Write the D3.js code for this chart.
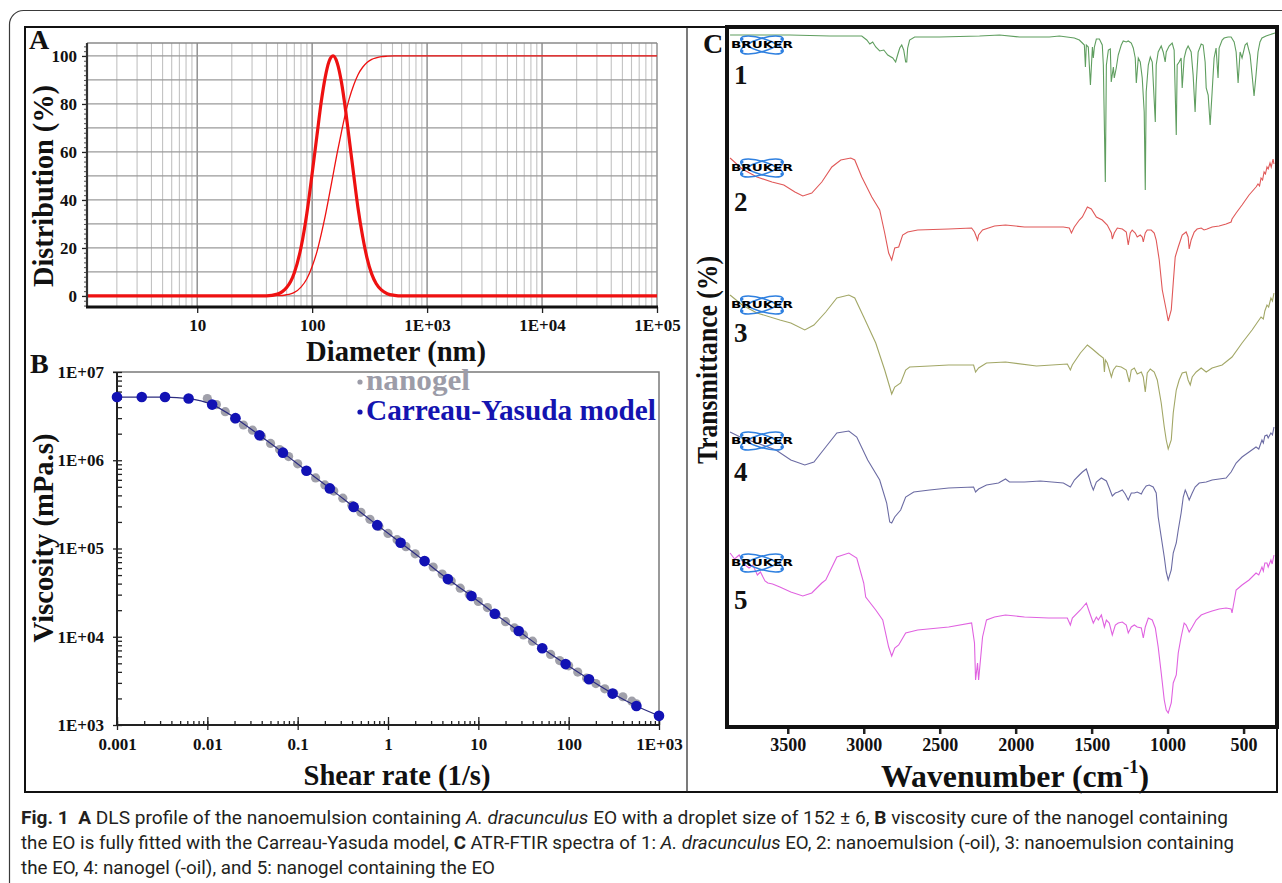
<!DOCTYPE html>
<html>
<head>
<meta charset="utf-8">
<script src="https://cdn.jsdelivr.net/npm/d3@7/dist/d3.min.js"></script>
<style>
  body { margin: 0; background: #fff; }
  svg text { font-family: "Liberation Serif", "Times New Roman", serif; font-weight: bold; fill: #111; }
  .caption text { font-family: Roboto, "Noto Sans", sans-serif; font-weight: normal; fill: #231f20; }
  svg text.logo { font-family: "DejaVu Sans", sans-serif; font-weight: bold; fill: #000; }
</style>
</head>
<body>
<svg id="fig" width="1282" height="883"></svg>
<script>
// Fig. 1 – DLS profile, viscosity curve, ATR-FTIR spectra

// ---------------------------
// Data: panel A (DLS)
// ---------------------------
const dlsDiameter = [1.1, 40, 50, 55, 60, 65, 70, 80, 90, 100, 110, 120, 130, 140, 152, 165, 180, 195, 210, 230, 250, 275, 300, 330, 360, 400, 450, 520, 600, 100000];
const dlsDistribution = [0, 0, 0.8, 1.8, 3.5, 6.0, 9.7, 20.2, 34.5, 51, 66.7, 80.9, 91.2, 97.6, 100, 97.2, 89.0, 77.7, 65.5, 50.4, 37.0, 24.8, 15.9, 9.1, 5.2, 2.5, 0.95, 0.25, 0, 0];
const dlsCumulative = [0, 0, 0.1, 0.2, 0.5, 0.9, 1.5, 3.7, 7.2, 12.3, 18.4, 25.8, 33.4, 41.3, 50.4, 59.5, 68.4, 76.1, 82.1, 87.9, 92.1, 95.3, 97.3, 98.6, 99.2, 99.7, 99.9, 100, 100, 100];
const dlsXTicks = [10, 100, 1000, 10000, 100000];
const dlsXLabels = ["10", "100", "1E+03", "1E+04", "1E+05"];
const dlsYTicks = [0, 20, 40, 60, 80, 100];

// ---------------------------
// Data: panel B (rheology)
// ---------------------------
const shearModel = [0.001, 0.00188, 0.0034, 0.0062, 0.0113, 0.0205, 0.0378, 0.0687, 0.125, 0.227, 0.417, 0.76, 1.38, 2.54, 4.6, 8.4, 15.2, 28, 51, 92.5, 168, 306, 562, 1000];
const viscModel = [5.2e6, 5.2e6, 5.2e6, 5.0e6, 4.27e6, 3.0e6, 1.92e6, 1.22e6, 7.6e5, 4.8e5, 2.96e5, 1.84e5, 1.16e5, 7.2e4, 4.5e4, 2.9e4, 1.82e4, 1.16e4, 7.4e3, 4.9e3, 3.3e3, 2.27e3, 1.64e3, 1.27e3];
const shearGel = [0.01, 0.0126, 0.0158, 0.02, 0.0251, 0.0316, 0.0398, 0.0501, 0.0631, 0.0794, 0.1, 0.126, 0.158, 0.2, 0.251, 0.316, 0.398, 0.501, 0.631, 0.794, 1, 1.26, 1.58, 2, 2.51, 3.16, 3.98, 5.01, 6.31, 7.94, 10, 12.6, 15.8, 20, 25.1, 31.6, 39.8, 50.1, 63.1, 79.4, 100, 126, 158, 200, 251, 316, 398, 501, 562];
const viscGel = [5.01e6, 4.27e6, 3.55e6, 2.95e6, 2.51e6, 2.19e6, 1.86e6, 1.55e6, 1.32e6, 1.10e6, 9.12e5, 7.59e5, 6.31e5, 5.25e5, 4.47e5, 3.72e5, 3.09e5, 2.57e5, 2.14e5, 1.78e5, 1.48e5, 1.26e5, 1.05e5, 8.71e4, 7.24e4, 6.17e4, 5.13e4, 4.27e4, 3.55e4, 3.02e4, 2.51e4, 2.14e4, 1.78e4, 1.48e4, 1.26e4, 1.05e4, 8.91e3, 7.41e3, 6.31e3, 5.37e3, 4.68e3, 3.98e3, 3.39e3, 2.95e3, 2.57e3, 2.29e3, 2.09e3, 1.86e3, 1.74e3];
const rheoXTicks = [0.001, 0.01, 0.1, 1, 10, 100, 1000];
const rheoXLabels = ["0.001", "0.01", "0.1", "1", "10", "100", "1E+03"];
const rheoYTicks = [1e3, 1e4, 1e5, 1e6, 1e7];
const rheoYLabels = ["1E+03", "1E+04", "1E+05", "1E+06", "1E+07"];

// ---------------------------
// Data: panel C (ATR-FTIR, stacked, transmittance in a.u.)
// ---------------------------
const spec1 = [[3880,690],[3486,690],[3223,689],[3013,689],[2980,685],[2960,681],[2941,683],[2921,678],[2895,674],[2868,675],[2842,670],[2809,667],[2790,663],[2777,670],[2763,677],[2750,680],[2737,675],[2724,663],[2717,663],[2711,677],[2698,685],[2665,688],[2501,688],[2238,689],[2106,690],[1975,688],[1778,688],[1712,689],[1614,687],[1581,685],[1561,682],[1548,680],[1541,658],[1535,680],[1522,678],[1508,640],[1495,678],[1489,667],[1482,678],[1469,686],[1449,686],[1430,680],[1423,660],[1410,543],[1403,660],[1390,675],[1377,676],[1371,643],[1357,658],[1351,647],[1338,657],[1325,670],[1305,680],[1292,684],[1272,683],[1259,684],[1239,682],[1226,677],[1213,667],[1206,642],[1193,667],[1180,663],[1167,647],[1154,613],[1147,535],[1141,633],[1127,660],[1114,668],[1101,663],[1081,603],[1075,660],[1062,673],[1042,679],[1029,673],[1016,663],[1009,673],[990,679],[970,682],[957,675],[943,590],[937,660],[924,663],[911,667],[904,637],[891,667],[878,675],[865,679],[845,673],[832,650],[819,613],[812,640],[799,673],[779,681],[766,680],[753,663],[746,637],[733,630],[720,600],[707,633],[694,667],[681,677],[668,647],[661,677],[641,685],[628,687],[602,688],[582,688],[562,683],[549,673],[536,642],[523,673],[510,667],[490,680],[477,682],[457,670],[444,650],[431,629],[418,650],[405,673],[392,683],[379,687],[352,689],[333,690],[293,692]];
const spec2 = [[3880,567],[3800,556],[3703,548],[3604,543],[3526,540],[3453,533],[3401,529],[3342,532],[3276,543],[3210,558],[3151,565],[3085,567],[3059,565],[3013,548],[2947,528],[2895,515],[2862,492],[2836,472],[2816,465],[2796,477],[2770,478],[2744,490],[2711,493],[2645,495],[2441,496],[2290,497],[2271,493],[2251,485],[2244,490],[2218,495],[2139,499],[2067,500],[1942,498],[1686,498],[1647,497],[1633,492],[1614,498],[1581,505],[1561,508],[1528,518],[1502,516],[1469,508],[1430,505],[1397,500],[1370,492],[1364,486],[1351,492],[1331,497],[1298,496],[1272,493],[1259,480],[1246,492],[1233,495],[1213,492],[1200,488],[1180,490],[1167,488],[1160,483],[1147,492],[1134,495],[1108,495],[1088,492],[1075,485],[1055,465],[1035,435],[1009,415],[996,404],[976,415],[963,442],[950,468],[930,478],[904,490],[878,493],[865,488],[858,476],[845,485],[825,493],[806,496],[779,497],[760,495],[740,496],[707,498],[661,499],[615,501],[582,503],[576,506],[549,512],[510,520],[464,530],[418,538],[405,541],[395,539],[385,547],[375,545],[365,553],[356,551],[346,558],[338,556],[326,562],[318,558],[306,566],[300,561]];
const spec3 = [[3880,430],[3800,420],[3703,412],[3552,405],[3480,402],[3388,395],[3328,400],[3250,413],[3177,427],[3098,430],[3059,427],[3000,408],[2921,382],[2862,355],[2829,338],[2816,331],[2796,338],[2757,342],[2724,355],[2698,358],[2566,359],[2441,360],[2277,360],[2264,353],[2244,357],[2192,362],[2067,363],[1863,359],[1660,361],[1640,355],[1627,360],[1574,372],[1528,380],[1495,376],[1449,370],[1423,367],[1416,353],[1410,365],[1397,362],[1370,348],[1357,355],[1338,359],[1305,358],[1272,355],[1252,343],[1239,355],[1219,357],[1200,351],[1173,353],[1160,348],[1147,333],[1134,352],[1114,356],[1088,353],[1068,345],[1042,322],[1022,298],[1009,285],[996,276],[976,285],[963,312],[943,335],[924,345],[904,352],[878,353],[865,345],[851,340],[838,348],[812,353],[779,357],[746,353],[707,357],[641,360],[576,368],[510,382],[444,395],[385,408],[370,406],[360,414],[346,420],[335,418],[320,427],[310,424],[300,432]];
const spec4 = [[3880,293],[3800,287],[3703,282],[3578,275],[3480,265],[3388,260],[3328,263],[3250,278],[3177,292],[3098,294],[3046,288],[2974,265],[2895,245],[2849,222],[2829,203],[2816,202],[2796,208],[2757,215],[2724,228],[2671,233],[2566,235],[2441,237],[2277,238],[2264,233],[2244,236],[2192,240],[2113,242],[2067,246],[2041,243],[1942,243],[1837,244],[1686,242],[1640,238],[1614,245],[1581,250],[1561,253],[1535,256],[1522,250],[1502,240],[1489,235],[1469,243],[1436,247],[1403,244],[1384,237],[1364,229],[1344,232],[1325,233],[1298,235],[1279,231],[1259,225],[1239,232],[1219,232],[1200,233],[1173,231],[1160,235],[1141,239],[1121,240],[1095,238],[1075,232],[1062,208],[1042,188],[1022,168],[1009,153],[996,145],[976,155],[963,172],[943,182],[930,195],[911,212],[897,228],[884,235],[878,233],[858,225],[838,232],[819,238],[792,242],[746,243],[707,245],[661,246],[615,247],[582,253],[549,262],[510,268],[464,273],[418,278],[400,276],[379,285],[370,282],[360,289],[346,290],[338,287],[320,292],[310,290],[300,298]];
const spec5 = [[3880,172],[3850,166],[3820,170],[3790,161],[3755,157],[3730,160],[3700,150],[3680,153],[3650,144],[3631,142],[3600,141],[3552,138],[3480,133],[3401,129],[3342,132],[3276,142],[3250,145],[3177,168],[3098,172],[3046,167],[3000,142],[2987,128],[2921,115],[2875,105],[2836,78],[2816,69],[2796,77],[2770,80],[2724,92],[2645,95],[2441,98],[2290,102],[2271,82],[2264,45],[2251,62],[2244,45],[2218,88],[2192,105],[2139,108],[2067,110],[1942,108],[1784,107],[1660,107],[1640,100],[1627,107],[1574,115],[1535,122],[1515,113],[1489,102],[1469,108],[1456,105],[1436,110],[1416,98],[1403,105],[1384,102],[1364,90],[1344,100],[1325,102],[1298,103],[1272,100],[1259,92],[1239,98],[1219,100],[1200,98],[1173,97],[1160,87],[1147,98],[1127,107],[1101,105],[1081,97],[1062,78],[1042,52],[1022,25],[1009,15],[996,12],[976,22],[963,42],[943,50],[930,72],[911,88],[891,102],[878,100],[858,93],[838,98],[812,105],[779,110],[746,112],[707,114],[661,116],[615,117],[582,116],[576,112],[569,118],[549,135],[510,140],[464,145],[418,152],[400,150],[379,158],[370,154],[360,162],[346,162],[338,158],[320,165],[312,161],[300,170]];
const spectra = [spec1, spec2, spec3, spec4, spec5];
const specColors = ["#5f9e5f", "#e05858", "#a2a766", "#6b6ba3", "#e062e0"];
const specLabels = ["1", "2", "3", "4", "5"];
const logoLevel = [680, 557, 420, 284, 162];   // where each Bruker logo sits (a.u.)
const labelLevel = [650, 523, 392, 253, 125];  // where each number sits (a.u.)
const wnTicks = [3500, 3000, 2500, 2000, 1500, 1000, 500];

const svg = d3.select("#fig");

drawFrame();
drawPanelA();
drawPanelB();
drawPanelC();
drawCaption();

// ---------------------------
// Frames
// ---------------------------
function drawFrame() {
  svg.append("rect")
    .attr("x", 9.5).attr("y", 10.5)
    .attr("width", 1400).attr("height", 1000)
    .attr("rx", 14)
    .attr("fill", "none").attr("stroke", "#3a3a3a").attr("stroke-width", 1.2);

  svg.append("rect")
    .attr("x", 25).attr("y", 27)
    .attr("width", 1252).attr("height", 765)
    .attr("fill", "none").attr("stroke", "#111").attr("stroke-width", 2);

  svg.append("line")
    .attr("x1", 687).attr("x2", 687).attr("y1", 27).attr("y2", 792)
    .attr("stroke", "#222").attr("stroke-width", 1.2);
}

function panelLetter(text, x, y) {
  svg.append("text").attr("x", x).attr("y", y)
    .attr("font-size", 28).text(text);
}

function axisTitle(text, x, y, len, size, rotate) {
  svg.append("text")
    .attr("transform", `translate(${x},${y})` + (rotate ? " rotate(-90)" : ""))
    .attr("text-anchor", "middle")
    .attr("dominant-baseline", "central")
    .attr("font-size", size)
    .attr("textLength", len)
    .attr("lengthAdjust", "spacingAndGlyphs")
    .text(text);
}

function styleTicks(g, size) {
  g.select(".domain").remove();
  g.selectAll(".tick line").attr("stroke", "#222").attr("stroke-width", 1.3);
  g.selectAll(".tick text")
    .attr("fill", "#111")
    .attr("font-size", size);
}

function logMinors(lo, hi) {
  const out = [];
  for (let k = Math.floor(Math.log10(lo)); k <= Math.ceil(Math.log10(hi)); k++) {
    for (let m = 1; m <= 9; m++) {
      const v = m * Math.pow(10, k);
      if (v >= lo * 0.999 && v <= hi * 1.001) out.push(v);
    }
  }
  return out;
}

// ---------------------------
// Panel A
// ---------------------------
function drawPanelA() {
  const x = d3.scaleLog().domain([1.1, 1e5]).range([87, 657]);
  const y = d3.scaleLinear().domain([-4.6, 105.4]).range([307, 43]);
  const [x0, x1] = x.range();
  const [y0, y1] = y.range();
  const g = svg.append("g");

  const vgrid = logMinors(1.1, 1e5);
  g.selectAll("line.vg").data(vgrid).join("line")
    .attr("class", "vg")
    .attr("x1", d => x(d)).attr("x2", d => x(d))
    .attr("y1", y1).attr("y2", y0)
    .attr("stroke", d => Number.isInteger(Math.log10(d)) ? "#8a8a8a" : "#c2c2c2")
    .attr("stroke-width", d => Number.isInteger(Math.log10(d)) ? 1.4 : 1.1);

  g.selectAll("line.hg").data(d3.range(0, 101, 10)).join("line")
    .attr("class", "hg")
    .attr("x1", x0).attr("x2", x1)
    .attr("y1", d => y(d)).attr("y2", d => y(d))
    .attr("stroke", "#9a9a9a").attr("stroke-width", 1.2);

  // top frame
  g.append("line").attr("x1", x0).attr("x2", x1).attr("y1", y1).attr("y2", y1)
    .attr("stroke", "#8a8a8a").attr("stroke-width", 1.4);

  const line = d3.line()
    .x((d, i) => x(dlsDiameter[i]))
    .y(d => y(d))
    .curve(d3.curveMonotoneX);

  g.append("path").datum(dlsCumulative)
    .attr("d", line).attr("fill", "none")
    .attr("stroke", "#ee1111").attr("stroke-width", 1.3);

  g.append("path").datum(dlsDistribution)
    .attr("d", line).attr("fill", "none")
    .attr("stroke", "#ee1111").attr("stroke-width", 3.2);

  // axes
  g.append("g").attr("transform", `translate(${x0},0)`)
    .call(d3.axisLeft(y).tickValues(d3.range(-4, 105, 2)).tickSize(3).tickFormat(""))
    .call(a => styleTicks(a, 17))
    .call(a => a.selectAll(".tick line").attr("stroke-width", 1).attr("stroke", "#555"));

  g.append("g").attr("transform", `translate(${x0},0)`)
    .call(d3.axisLeft(y).tickValues(dlsYTicks).tickSize(5).tickPadding(5))
    .call(a => styleTicks(a, 17));

  g.append("line").attr("x1", x0).attr("x2", x0).attr("y1", y1).attr("y2", y0)
    .attr("stroke", "#333").attr("stroke-width", 2.2);

  g.append("g").attr("transform", `translate(0,${y0})`)
    .call(d3.axisBottom(x).tickValues(dlsXTicks).tickSize(6).tickPadding(6)
      .tickFormat((d, i) => dlsXLabels[i]))
    .call(a => styleTicks(a, 17));

  g.append("line").attr("x1", x0 - 1).attr("x2", x1 + 1).attr("y1", y0).attr("y2", y0)
    .attr("stroke", "#111").attr("stroke-width", 3);

  panelLetter("A", 29, 49);
  axisTitle("Diameter (nm)", 396, 351, 180, 29, false);
  axisTitle("Distribution (%)", 43, 186, 202, 29, true);
}

// ---------------------------
// Panel B
// ---------------------------
function drawPanelB() {
  const x = d3.scaleLog().domain([0.001, 1000]).range([117, 659]);
  const y = d3.scaleLog().domain([1e3, 1e7]).range([725, 372]);
  const [x0, x1] = x.range();
  const [y0, y1] = y.range();
  const g = svg.append("g");

  // top and right frame
  g.append("path")
    .attr("d", `M${x0 - 4},${y1}H${x1}V${y0}`)
    .attr("fill", "none").attr("stroke", "#7a7a7a").attr("stroke-width", 1.5);

  // minor ticks inside
  g.append("g").attr("transform", `translate(0,${y0})`)
    .call(d3.axisTop(x).tickValues(logMinors(0.001, 1000)).tickSize(4).tickFormat(""))
    .call(a => styleTicks(a, 17));
  g.append("g").attr("transform", `translate(0,${y0})`)
    .call(d3.axisTop(x).tickValues(rheoXTicks).tickSize(8).tickFormat(""))
    .call(a => styleTicks(a, 17));
  g.append("g").attr("transform", `translate(${x0},0)`)
    .call(d3.axisRight(y).tickValues(logMinors(1e3, 1e7)).tickSize(5).tickFormat(""))
    .call(a => styleTicks(a, 17));

  g.append("g").attr("transform", `translate(0,${y0})`)
    .call(d3.axisBottom(x).tickValues(rheoXTicks).tickSize(5).tickPadding(8)
      .tickFormat((d, i) => rheoXLabels[i]))
    .call(a => styleTicks(a, 17));

  g.append("g").attr("transform", `translate(${x0},0)`)
    .call(d3.axisLeft(y).tickValues(rheoYTicks).tickSize(4).tickPadding(9)
      .tickFormat((d, i) => rheoYLabels[i]))
    .call(a => styleTicks(a, 17));

  g.append("line").attr("x1", x0).attr("x2", x0).attr("y1", y1).attr("y2", y0)
    .attr("stroke", "#222").attr("stroke-width", 2);
  g.append("line").attr("x1", x0).attr("x2", x1).attr("y1", y0).attr("y2", y0)
    .attr("stroke", "#222").attr("stroke-width", 2.2);

  // nanogel measurements
  g.selectAll("circle.gel").data(shearGel).join("circle")
    .attr("class", "gel")
    .attr("cx", d => x(d))
    .attr("cy", (d, i) => y(viscGel[i]))
    .attr("r", 4.6)
    .attr("fill", "#a0a0aa");

  // Carreau-Yasuda fit
  g.append("path").datum(shearModel)
    .attr("d", d3.line().x(d => x(d)).y((d, i) => y(viscModel[i])).curve(d3.curveMonotoneX))
    .attr("fill", "none").attr("stroke", "#2c2c80").attr("stroke-width", 1.2);

  g.selectAll("circle.fit").data(shearModel).join("circle")
    .attr("class", "fit")
    .attr("cx", d => x(d))
    .attr("cy", (d, i) => y(viscModel[i]))
    .attr("r", 5.3)
    .attr("fill", "#1212b4");

  // legend
  const legend = [
    { label: "nanogel", color: "#9c9ca8", y: 390, len: 104 },
    { label: "Carreau-Yasuda model", color: "#1414b0", y: 420, len: 290 }
  ];
  legend.forEach(d => {
    svg.append("circle").attr("cx", 360).attr("cy", d.y - 8).attr("r", 2.6).attr("fill", d.color);
    svg.append("text").attr("x", 366).attr("y", d.y)
      .attr("font-size", 29).style("fill", d.color)
      .attr("textLength", d.len).attr("lengthAdjust", "spacingAndGlyphs")
      .text(d.label);
  });

  panelLetter("B", 30, 373);
  axisTitle("Shear rate (1/s)", 397, 775, 187, 29, false);
  axisTitle("Viscosity (mPa.s)", 43, 538, 209, 29, true);
}

// ---------------------------
// Panel C
// ---------------------------
function drawPanelC() {
  const x = d3.scaleLinear().domain([3900, 280]).range([727, 1277]);
  const y = d3.scaleLinear().domain([0, 700]).range([725, 25]);
  const g = svg.append("g");

  const line = d3.line().x(d => x(d[0])).y(d => y(d[1]));

  spectra.forEach((s, i) => {
    g.append("path").datum(s)
      .attr("d", line).attr("fill", "none")
      .attr("stroke", specColors[i]).attr("stroke-width", 1.1);
  });

  // Bruker logos
  spectra.forEach((s, i) => {
    const lg = g.append("g").attr("transform", `translate(${x(3670)},${y(logoLevel[i])})`);
    [-17, 17].forEach(a => {
      lg.append("ellipse").attr("rx", 22).attr("ry", 6.5)
        .attr("transform", `rotate(${a})`)
        .attr("fill", "none").attr("stroke", "#2f80e0").attr("stroke-width", 1.6);
    });
    [[-20, -6], [20, -6], [-20, 6], [20, 6]].forEach(p => {
      lg.append("circle").attr("cx", p[0]).attr("cy", p[1]).attr("r", 1.6).attr("fill", "#2f80e0");
    });
    lg.append("text").attr("class", "logo").attr("x", 0).attr("y", 3)
      .attr("text-anchor", "middle")
      .attr("font-size", 8)
      .attr("textLength", 62).attr("lengthAdjust", "spacingAndGlyphs")
      .text("BRUKER");
  });

  g.selectAll("text.num").data(specLabels).join("text")
    .attr("class", "num")
    .attr("x", x(3810))
    .attr("y", (d, i) => y(labelLevel[i]))
    .attr("text-anchor", "middle")
    .attr("dominant-baseline", "central")
    .attr("font-size", 27)
    .text(d => d);

  // frame
  g.append("rect")
    .attr("x", x.range()[0]).attr("y", 27)
    .attr("width", x.range()[1] - x.range()[0]).attr("height", 700)
    .attr("fill", "none").attr("stroke", "#111").attr("stroke-width", 4);

  g.append("g").attr("transform", "translate(0,729)")
    .call(d3.axisBottom(x).tickValues(wnTicks).tickSize(5).tickPadding(4).tickFormat(d3.format("d")))
    .call(a => styleTicks(a, 18))
    .call(a => a.selectAll(".tick line").attr("stroke-width", 2.5));

  svg.append("text").attr("x", 703).attr("y", 53).attr("font-size", 28).text("C");

  axisTitle("Transmittance (%)", 706, 360, 208, 30, true);

  const wt = svg.append("text")
    .attr("x", 1015).attr("y", 776)
    .attr("text-anchor", "middle")
    .attr("dominant-baseline", "central")
    .attr("font-size", 31)
    .attr("textLength", 268).attr("lengthAdjust", "spacingAndGlyphs");
  wt.append("tspan").text("Wavenumber (cm");
  wt.append("tspan").attr("font-size", 18).attr("dy", -9).text("-1");
  wt.append("tspan").attr("dy", 9).text(")");
}

// ---------------------------
// Caption
// ---------------------------
function drawCaption() {
  const lines = [
    { y: 824, len: 1207, parts: [["Fig. 1", "b"], ["  ", ""], ["A", "b"], [" DLS profile of the nanoemulsion containing ", ""], ["A. dracunculus", "i"], [" EO with a droplet size of 152 ± 6, ", ""], ["B", "b"], [" viscosity cure of the nanogel containing", ""]] },
    { y: 849, len: 1213, parts: [["the EO is fully fitted with the Carreau-Yasuda model, ", ""], ["C", "b"], [" ATR-FTIR spectra of 1: ", ""], ["A. dracunculus", "i"], [" EO, 2: nanoemulsion (-oil), 3: nanoemulsion containing", ""]] },
    { y: 874, len: 474, parts: [["the EO, 4: nanogel (-oil), and 5: nanogel containing the EO", ""]] }
  ];
  const cg = svg.append("g").attr("class", "caption");
  lines.forEach(l => {
    const t = cg.append("text")
      .attr("x", 21).attr("y", l.y)
      .attr("font-size", 18)
      .attr("textLength", l.len).attr("lengthAdjust", "spacingAndGlyphs")
      .attr("xml:space", "preserve");
    l.parts.forEach(p => {
      t.append("tspan")
        .style("font-weight", p[1] === "b" ? "bold" : "normal")
        .style("font-style", p[1] === "i" ? "italic" : "normal")
        .text(p[0]);
    });
  });
}
</script>
</body>
</html>
